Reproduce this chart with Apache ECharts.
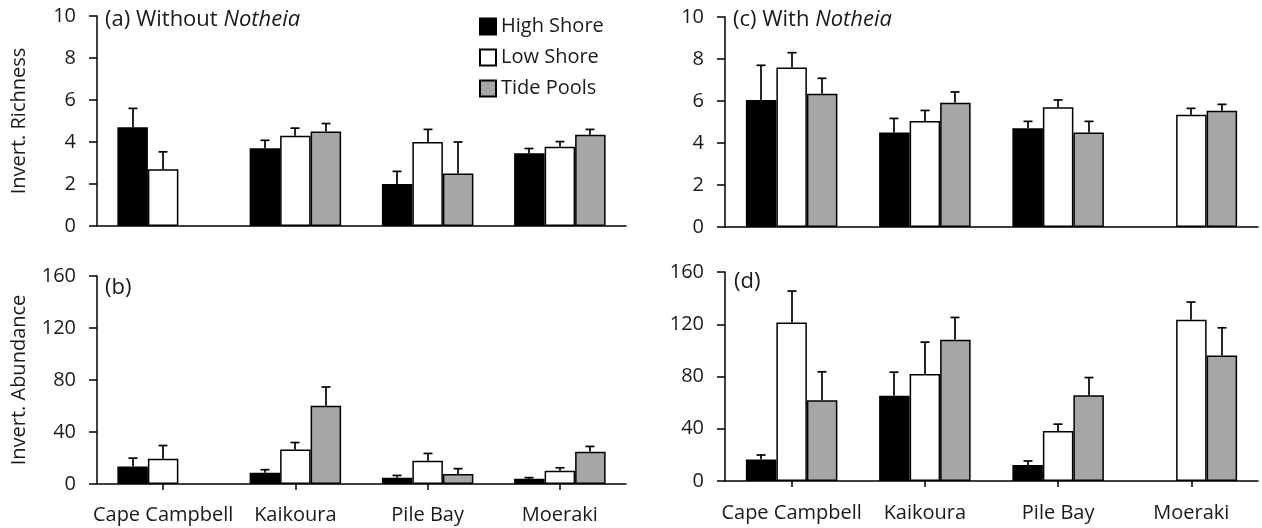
<!DOCTYPE html>
<html>
<head>
<meta charset="utf-8">
<script src="https://cdn.jsdelivr.net/npm/echarts@6/dist/echarts.min.js"></script>
<style>
  html, body { margin: 0; padding: 0; background: #fff; }
  #chart { width: 1262px; height: 528px; }
</style>
</head>
<body>
<div id="chart"></div>
<script>
// Sites along the coast
const sites = ['Cape Campbell', 'Kaikoura', 'Pile Bay', 'Moeraki'];
const zones = ['High Shore', 'Low Shore', 'Tide Pools'];

// (a) invertebrate richness, plots without Notheia (mean and SE)
const richWithoutHigh = [4.7, 3.7, 2.0, 3.47];
const richWithoutHighSE = [0.9, 0.38, 0.6, 0.22];
const richWithoutLow = [2.7, 4.3, 4.0, 3.77];
const richWithoutLowSE = [0.83, 0.36, 0.6, 0.25];
const richWithoutPool = [null, 4.5, 2.5, 4.35];
const richWithoutPoolSE = [null, 0.38, 1.5, 0.25];

// (b) invertebrate abundance, plots without Notheia
const abundWithoutHigh = [13.5, 8.7, 4.9, 4.1];
const abundWithoutHighSE = [6.4, 2.3, 1.7, 0.8];
const abundWithoutLow = [19.4, 26.6, 17.9, 10.2];
const abundWithoutLowSE = [10.2, 5.3, 5.6, 2.3];
const abundWithoutPool = [null, 60.1, 7.7, 24.8];
const abundWithoutPoolSE = [null, 14.5, 4.1, 4.1];

// (c) invertebrate richness, plots with Notheia
const richWithHigh = [6.05, 4.5, 4.7, null];
const richWithHighSE = [1.65, 0.67, 0.33, null];
const richWithLow = [7.6, 5.05, 5.7, 5.35];
const richWithLowSE = [0.7, 0.5, 0.35, 0.3];
const richWithPool = [6.35, 5.92, 4.5, 5.54];
const richWithPoolSE = [0.73, 0.51, 0.53, 0.3];

// (d) invertebrate abundance, plots with Notheia
const abundWithHigh = [16.4, 65.2, 12.3, null];
const abundWithHighSE = [3.5, 18.1, 3.0, null];
const abundWithLow = [121.4, 82, 38.3, 123.5];
const abundWithLowSE = [24, 24.3, 5.2, 13.5];
const abundWithPool = [61.9, 108.1, 65.7, 96.1];
const abundWithPoolSE = [21.7, 17.1, 13.5, 21.2];

const richTicks = [0, 10, 2];
const abundTicks = [0, 160, 40];

const FONT = 'Open Sans';
const TXT = '#1a1a1a';
const FILLS = ['#000000', '#ffffff', '#a6a6a6'];
const BAR_W = 30.5;

const panels = [
  { means: [richWithoutHigh, richWithoutLow, richWithoutPool],
    ses: [richWithoutHighSE, richWithoutLowSE, richWithoutPoolSE], ticks: richTicks },
  { means: [abundWithoutHigh, abundWithoutLow, abundWithoutPool],
    ses: [abundWithoutHighSE, abundWithoutLowSE, abundWithoutPoolSE], ticks: abundTicks },
  { means: [richWithHigh, richWithLow, richWithPool],
    ses: [richWithHighSE, richWithLowSE, richWithPoolSE], ticks: richTicks },
  { means: [abundWithHigh, abundWithLow, abundWithPool],
    ses: [abundWithHighSE, abundWithLowSE, abundWithPoolSE], ticks: abundTicks }
];

const grids = [
  { left: 97, top: 16, width: 529, height: 210 },
  { left: 97, top: 276, width: 529, height: 208 },
  { left: 725, top: 17, width: 533, height: 210 },
  { left: 725, top: 272, width: 533, height: 209 }
];

const axisLine = { show: true, lineStyle: { color: '#000', width: 1.5 } };

const xAxes = grids.map((g, i) => {
  const bottomRow = i === 1 || i === 3;
  return {
    type: 'category', gridIndex: i, data: sites,
    axisLine: axisLine,
    axisTick: { show: bottomRow, alignWithLabel: true, length: 6,
      lineStyle: { color: '#000', width: 1.5 } },
    axisLabel: { show: bottomRow, interval: 0, fontFamily: FONT, fontSize: 20, color: TXT,
      margin: i === 1 ? 21 : 22 },
    splitLine: { show: false }
  };
});

const yNames = ['Invert. Richness', 'Invert. Abundance', '', ''];
const yAxes = panels.map((p, i) => ({
  type: 'value', gridIndex: i,
  min: p.ticks[0], max: p.ticks[1], interval: p.ticks[2],
  name: yNames[i], nameLocation: 'middle', nameGap: 68,
  nameTextStyle: { fontFamily: FONT, fontSize: 20, color: TXT },
  axisLine: axisLine,
  axisTick: { show: true, inside: false, length: 8, lineStyle: { color: '#000', width: 1.5 } },
  axisLabel: { fontFamily: FONT, fontSize: 20, color: TXT, margin: 21 },
  splitLine: { show: false }
}));

const series = [];
panels.forEach((p, pi) => {
  p.means.forEach((vals, zi) => {
    series.push({
      type: 'bar', name: zones[zi], xAxisIndex: pi, yAxisIndex: pi,
      data: vals, barWidth: BAR_W, barGap: '0%',
      itemStyle: { color: FILLS[zi], borderColor: '#000', borderWidth: 1.5 },
      emphasis: { disabled: true }, animation: false
    });
  });
  // upward standard-error whiskers, one per bar
  p.means.forEach((vals, zi) => {
    const offset = (zi - 1) * BAR_W;
    const data = [];
    vals.forEach((v, ci) => { if (v != null) data.push([ci, v, p.ses[zi][ci]]); });
    series.push({
      type: 'custom', name: 'se-' + pi + '-' + zi,
      xAxisIndex: pi, yAxisIndex: pi, data: data, z: 5, clip: false,
      encode: { x: 0, y: [1, 2] }, animation: false, silent: true,
      renderItem: function (params, api) {
        const ci = api.value(0), m = api.value(1), se = api.value(2);
        const base = api.coord([ci, m]);
        const top = api.coord([ci, m + se]);
        const x = Math.round(base[0] + offset);
        const st = { stroke: '#000', lineWidth: 1.7 };
        return { type: 'group', children: [
          { type: 'line', shape: { x1: x, y1: base[1], x2: x, y2: top[1] }, style: st },
          { type: 'line', shape: { x1: x - 4.5, y1: top[1], x2: x + 4.5, y2: top[1] }, style: st }
        ] };
      }
    });
  });
});

const titleStyle = {
  fontFamily: FONT, fontSize: 22, fontWeight: 'normal', color: TXT,
  rich: { i: { fontFamily: FONT, fontSize: 22, fontStyle: 'italic', color: TXT } }
};

const option = {
  backgroundColor: '#fff',
  animation: false,
  title: [
    { text: '(a) Without {i|Notheia}', left: 105, top: 9, padding: 0, textStyle: titleStyle },
    { text: '(b)', left: 105, top: 277, padding: 0, textStyle: titleStyle },
    { text: '(c) With {i|Notheia}', left: 733, top: 9, padding: 0, textStyle: titleStyle },
    { text: '(d)', left: 734, top: 271, padding: 0, textStyle: titleStyle }
  ],
  legend: {
    data: zones, orient: 'vertical', left: 479, top: 16, padding: 0,
    icon: 'rect', itemWidth: 16, itemHeight: 16, itemGap: 10,
    textStyle: { fontFamily: FONT, fontSize: 20, color: TXT, lineHeight: 21, padding: [0, 0, 0, 0] },
    selectedMode: false
  },
  grid: grids,
  xAxis: xAxes,
  yAxis: yAxes,
  series: series
};

const chart = echarts.init(document.getElementById('chart'), null, { renderer: 'canvas' });
chart.setOption(option);
</script>
</body>
</html>
